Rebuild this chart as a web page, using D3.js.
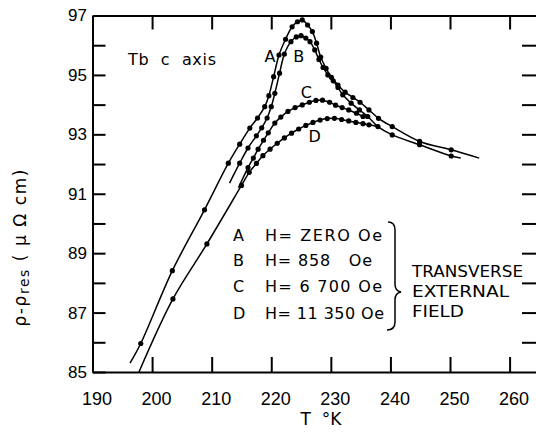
<!DOCTYPE html>
<html>
<head>
<meta charset="utf-8">
<script src="https://cdn.jsdelivr.net/npm/d3@7"></script>
<style>
  body { margin: 0; background: #fff; }
  svg { display: block; font-family: "DejaVu Sans", sans-serif; }
  .axis path, .axis line { stroke: #000; stroke-width: 2; }
  .axis text { fill: #000; }
</style>
</head>
<body>
<script>
const seriesA = [
  [198.1, 85.96], [203.4, 88.41], [208.8, 90.46], [212.8, 92.03], [214.7, 92.67],
  [216.4, 93.21], [217.7, 93.55], [218.9, 93.93], [219.6, 94.3], [220.4, 94.94],
  [221.3, 95.67], [222.4, 96.2], [223.5, 96.62], [224.4, 96.79], [225.2, 96.85],
  [226.1, 96.68], [226.9, 96.46], [227.6, 96.07], [228.3, 95.6], [229.2, 95.22],
  [230.1, 94.92], [231.2, 94.66], [232.4, 94.42], [233.7, 94.24], [234.9, 94.08],
  [236.4, 93.82], [238.0, 93.54], [240.3, 93.26], [244.9, 92.76], [250.2, 92.48]
];
const seriesB = [
  [214.7, 92.03], [216.1, 92.54], [217.5, 92.95], [218.4, 93.22], [219.3, 93.55],
  [220.0, 93.93], [220.6, 94.38], [221.4, 95.06], [222.2, 95.7], [223.3, 96.12],
  [224.2, 96.28], [225.0, 96.32], [225.8, 96.24], [226.5, 96.12], [227.3, 95.84],
  [228.0, 95.52], [228.7, 95.25], [229.5, 95.0], [230.4, 94.8], [231.2, 94.58],
  [232.0, 94.33], [233.4, 94.05], [234.8, 93.82], [236.2, 93.6], [237.9, 93.26],
  [240.3, 92.98], [244.9, 92.65], [250.2, 92.27]
];
const seriesC = [
  [216.1, 91.88], [217.0, 92.2], [217.8, 92.5], [218.7, 92.8], [219.5, 93.05],
  [220.6, 93.38], [221.6, 93.58], [222.8, 93.77], [224.0, 93.9], [225.2, 93.99],
  [226.4, 94.08], [227.5, 94.14], [228.6, 94.15], [229.8, 94.08], [230.8, 93.98],
  [231.9, 93.9], [233.0, 93.82], [234.3, 93.71], [235.4, 93.6]
];
const seriesD = [
  [203.5, 87.46], [209.2, 89.31], [215.0, 91.28], [216.3, 91.72], [217.5, 92.02],
  [218.6, 92.28], [219.8, 92.5], [221.0, 92.7], [222.2, 92.88], [223.4, 93.04],
  [224.6, 93.18], [225.8, 93.3], [227.0, 93.4], [228.2, 93.48], [229.4, 93.53],
  [230.6, 93.54], [231.8, 93.5], [233.0, 93.45], [234.2, 93.4], [235.4, 93.36],
  [236.4, 93.32]
];

// where each drawn curve starts and stops beyond the measured points
const endsA = [[196.3, 85.3], [254.9, 92.2]];
const endsB = [[213.0, 91.36], [251.8, 92.2]];
const endsC = [[214.5, 91.2], [236.2, 93.56]];
const endsD = [[197.8, 85.0], [237.9, 93.26]];

const curveNames = ['A', 'B', 'C', 'D'];
const curveLabelAt = [[219.8, 95.45], [224.6, 95.45], [225.9, 94.22], [227.3, 92.74]];

const xTicks = [190, 200, 210, 220, 230, 240, 250, 260];
const yTicks = [85, 86, 87, 88, 89, 90, 91, 92, 93, 94, 95, 96, 97];

const legendKeys = ['A', 'B', 'C', 'D'];
const legendRows = ['H= ZERO Oe', 'H= 858   Oe', 'H= 6 700 Oe', 'H= 11 350 Oe'];
const noteLines = ['TRANSVERSE', 'EXTERNAL', 'FIELD'];

const width = 536;
const height = 433;

const x = d3.scaleLinear().domain([190, 264.6]).range([92.5, 537]);
const y = d3.scaleLinear().domain([85, 97]).range([372, 15.5]);

const svg = d3.select('body')
  .append('svg')
  .attr('width', width)
  .attr('height', height);

// frame with inward ticks
svg.append('g')
  .attr('class', 'axis')
  .attr('transform', `translate(0,${ y(85) })`)
  .call(d3.axisBottom(x).tickValues(xTicks).tickSizeInner(-15).tickSizeOuter(0).tickPadding(20))
  .call(g => g.selectAll('text').attr('dx', 4).style('font-size', '18px'));

svg.append('g')
  .attr('class', 'axis')
  .attr('transform', `translate(0,${ y(97) })`)
  .call(d3.axisTop(x).tickValues(xTicks.slice(1)).tickSizeInner(-14).tickSizeOuter(0).tickFormat(''));

svg.append('g')
  .attr('class', 'axis')
  .attr('transform', `translate(${ x(190) },0)`)
  .call(d3.axisLeft(y).tickValues(yTicks).tickSizeInner(-13).tickSizeOuter(0).tickPadding(5.5)
    .tickFormat(d => d % 2 ? d : ''))
  .call(g => g.selectAll('text').style('font-size', '17px'));

svg.append('g')
  .attr('class', 'axis')
  .attr('transform', `translate(${ x(264.6) },0)`)
  .call(d3.axisRight(y).tickValues(yTicks.slice(1, -1)).tickSizeInner(-15).tickSizeOuter(0).tickFormat(''));

// curves
const line = d3.line()
  .x(d => x(d[0]))
  .y(d => y(d[1]))
  .curve(d3.curveCatmullRom.alpha(0.5));

const allSeries = [seriesA, seriesB, seriesC, seriesD];
const allEnds = [endsA, endsB, endsC, endsD];

allSeries.forEach((pts, i) => {
  const ends = allEnds[i];
  svg.append('path')
    .attr('d', line([ends[0], ...pts, ends[1]]))
    .attr('fill', 'none')
    .attr('stroke', '#000')
    .attr('stroke-width', 1.5);

  svg.append('g')
    .selectAll('circle')
    .data(pts)
    .enter()
    .append('circle')
    .attr('cx', d => x(d[0]))
    .attr('cy', d => y(d[1]))
    .attr('r', 2.6)
    .attr('fill', '#000');

  svg.append('text')
    .attr('x', x(curveLabelAt[i][0]))
    .attr('y', y(curveLabelAt[i][1]))
    .attr('text-anchor', 'middle')
    .style('font-size', '16px')
    .text(curveNames[i]);
});

// annotation
svg.append('text')
  .attr('x', 128)
  .attr('y', 65)
  .attr('textLength', 88)
  .style('font-size', '16px')
  .style('white-space', 'pre')
  .text('Tb  c  axis');

// legend
const rowY = [241, 266, 292, 319];
const rowLength = [117, 107, 117, 119];
legendKeys.forEach((k, i) => {
  svg.append('text').attr('x', 233).attr('y', rowY[i]).style('font-size', '16px').text(k);
  svg.append('text').attr('x', 265).attr('y', rowY[i]).style('font-size', '16px')
    .attr('textLength', rowLength[i])
    .style('white-space', 'pre').text(legendRows[i]);
});

// brace
svg.append('path')
  .attr('d', 'M388,222 Q395,222 395,230 L395,284 Q395,291 401,292 Q395,293 395,300 L395,322 Q395,330 387,330')
  .attr('fill', 'none')
  .attr('stroke', '#000')
  .attr('stroke-width', 1.5);

const noteY = [277, 297, 317];
const noteLength = [111, 97, 52];
noteLines.forEach((t, i) => {
  svg.append('text').attr('x', 412).attr('y', noteY[i]).style('font-size', '16px')
    .attr('textLength', noteLength[i]).attr('lengthAdjust', 'spacingAndGlyphs').text(t);
});

// axis titles
svg.append('text')
  .attr('x', 321)
  .attr('y', 425)
  .attr('text-anchor', 'middle')
  .style('font-size', '17px')
  .style('white-space', 'pre')
  .text('T  \u00b0K');

const yTitle = svg.append('text')
  .attr('transform', 'translate(26,248) rotate(-90)')
  .attr('text-anchor', 'middle')
  .attr('textLength', 157)
  .style('font-size', '17px');
yTitle.append('tspan').text('\u03c1-\u03c1');
yTitle.append('tspan').attr('dy', 3).style('font-size', '14px').text('res');
yTitle.append('tspan').attr('dy', -3).text(' ( \u03bc \u03a9 cm)');
</script>
</body>
</html>
